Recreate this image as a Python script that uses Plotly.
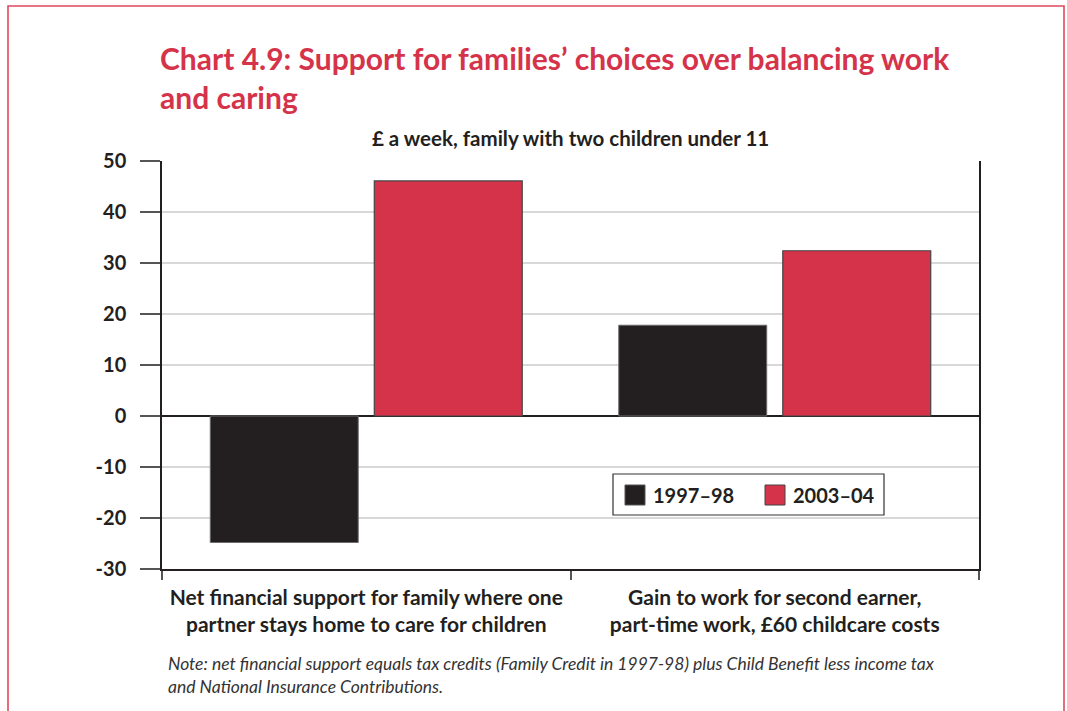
import plotly.graph_objects as go

# Data (£ a week)
categories = [
    "Net financial support for family where one<br>partner stays home to care for children",
    "Gain to work for second earner,<br>part-time work, £60 childcare costs",
]
series_names = ["1997–98", "2003–04"]
values_1997 = [-24.8, 17.8]
values_2003 = [46.1, 32.4]
y_ticks = [-30, -20, -10, 0, 10, 20, 30, 40, 50]

BLACK = "#231F20"
RED = "#D5334A"
FONT = "Lato"

W, H = 1067, 711
ML, MR, MT, MB = 162, 88, 161, 142
PW, PH = W - ML - MR, H - MT - MB


def px(x):
    return (x - ML) / PW


def py(y):
    return (H - MB - y) / PH


fig = go.Figure()
fig.add_trace(go.Bar(x=categories, y=values_1997, name=series_names[0],
                     marker=dict(color=BLACK, line=dict(color="#6a6a6a", width=1))))
fig.add_trace(go.Bar(x=categories, y=values_2003, name=series_names[1],
                     marker=dict(color=RED, line=dict(color="#444444", width=1.2))))

shapes = [
    # red frame around the whole chart
    dict(type="rect", xref="paper", yref="paper",
         x0=px(8), x1=px(1064), y0=py(730), y1=py(6),
         line=dict(color="#E0485E", width=1.6), layer="below"),
    # legend box
    dict(type="rect", xref="paper", yref="paper",
         x0=px(613), x1=px(884), y0=py(515), y1=py(474),
         fillcolor="white", line=dict(color="#333333", width=1.2)),
    dict(type="rect", xref="paper", yref="paper",
         x0=px(625), x1=px(645), y0=py(505), y1=py(485),
         fillcolor=BLACK, line=dict(color="#555555", width=1)),
    dict(type="rect", xref="paper", yref="paper",
         x0=px(765), x1=px(785), y0=py(505), y1=py(485),
         fillcolor=RED, line=dict(color="#444444", width=1)),
]

annotations = [
    dict(text="Chart 4.9: Support for families’ choices over balancing work<br>and caring",
         xref="paper", yref="paper", x=px(158), y=py(38), xanchor="left", yanchor="top",
         align="left", showarrow=False,
         font=dict(family=FONT, size=30, color=RED, weight="bold")),
    dict(text="£ a week, family with two children under 11",
         xref="paper", yref="paper", x=px(570), y=py(138), xanchor="center", yanchor="middle",
         showarrow=False, font=dict(family=FONT, size=20.5, color=BLACK, weight="bold")),
    dict(text=series_names[0], xref="paper", yref="paper", x=px(651), y=py(495),
         xanchor="left", yanchor="middle", showarrow=False,
         font=dict(family=FONT, size=20, color=BLACK, weight="bold")),
    dict(text=series_names[1], xref="paper", yref="paper", x=px(791), y=py(495),
         xanchor="left", yanchor="middle", showarrow=False,
         font=dict(family=FONT, size=20, color=BLACK, weight="bold")),
    dict(text="<i>Note: net financial support equals tax credits (Family Credit in 1997-98) plus Child Benefit less income tax"
              "<br>and National Insurance Contributions.</i>",
         xref="paper", yref="paper", x=px(166), y=py(651), xanchor="left", yanchor="top",
         align="left", showarrow=False,
         font=dict(family=FONT, size=17.5, color="#333333")),
]

fig.update_layout(
    width=W, height=H,
    margin=dict(l=ML, r=MR, t=MT, b=MB),
    paper_bgcolor="white", plot_bgcolor="white",
    barmode="group", bargap=0.197, bargroupgap=0.098,
    showlegend=False,
    shapes=shapes, annotations=annotations,
    font=dict(family=FONT, color=BLACK),
)

fig.update_yaxes(
    range=[-30, 50], tickvals=y_ticks, ticktext=[str(v) for v in y_ticks],
    showline=True, linecolor=BLACK, linewidth=1.5, mirror=True,
    ticks="outside", ticklen=20, tickcolor="#555555", tickwidth=2,
    showgrid=True, gridcolor="#d8d8d8", gridwidth=2,
    zeroline=True, zerolinecolor=BLACK, zerolinewidth=1.5,
    tickfont=dict(family=FONT, size=20, color=BLACK, weight="bold"),
    ticklabelstandoff=10,
)
fig.update_xaxes(
    showline=True, linecolor=BLACK, linewidth=1.5,
    ticks="outside", tickson="boundaries", ticklen=9, tickcolor="#555555", tickwidth=1.5,
    tickfont=dict(family=FONT, size=21, color=BLACK, weight="bold"),
    ticklabelstandoff=9,
    showgrid=False,
)

fig.write_html("out.html")
